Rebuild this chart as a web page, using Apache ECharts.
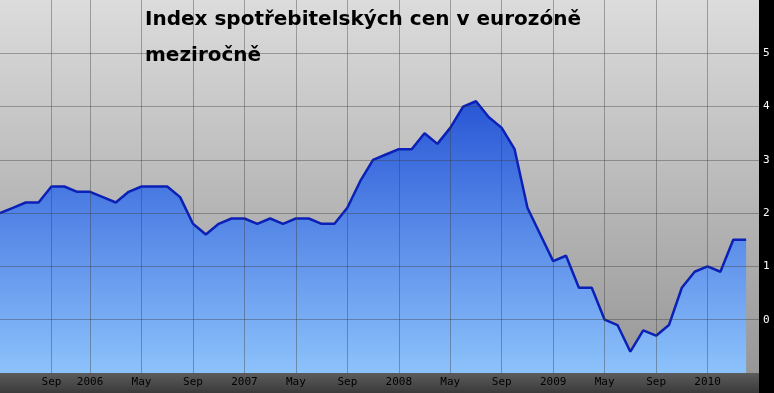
<!DOCTYPE html>
<html><head><meta charset="utf-8">
<script src="https://cdn.jsdelivr.net/npm/echarts@6/dist/echarts.min.js"></script>
<style>html,body{margin:0;padding:0;background:#000}#c{width:774px;height:393px}</style>
</head><body><div id="c"></div>
<script>
// monthly categories (Jun 2005 .. May 2010; last slot has no value)
const months = [
 '2005-06','2005-07','2005-08','2005-09','2005-10','2005-11','2005-12',
 '2006-01','2006-02','2006-03','2006-04','2006-05','2006-06','2006-07','2006-08','2006-09','2006-10','2006-11','2006-12',
 '2007-01','2007-02','2007-03','2007-04','2007-05','2007-06','2007-07','2007-08','2007-09','2007-10','2007-11','2007-12',
 '2008-01','2008-02','2008-03','2008-04','2008-05','2008-06','2008-07','2008-08','2008-09','2008-10','2008-11','2008-12',
 '2009-01','2009-02','2009-03','2009-04','2009-05','2009-06','2009-07','2009-08','2009-09','2009-10','2009-11','2009-12',
 '2010-01','2010-02','2010-03','2010-04','2010-05'
];
// year-on-year HICP, %
const values = [
 2.0,2.1,2.2,2.2,2.5,2.5,2.4,
 2.4,2.3,2.2,2.4,2.5,2.5,2.5,2.3,1.8,1.6,1.8,1.9,
 1.9,1.8,1.9,1.8,1.9,1.9,1.8,1.8,2.1,2.6,3.0,3.1,
 3.2,3.2,3.5,3.3,3.6,4.0,4.1,3.8,3.6,3.2,2.1,1.6,
 1.1,1.2,0.6,0.6,0.0,-0.1,-0.6,-0.2,-0.3,-0.1,0.6,0.9,
 1.0,0.9,1.5,1.5
];
const tickIndex  = [4,7,11,15,19,23,27,31,35,39,43,47,51,55];
const tickLabels = ['Sep','2006','May','Sep','2007','May','Sep','2008','May','Sep','2009','May','Sep','2010'];
const yTickLabels = ['0','1','2','3','4','5'];

const labelMap = {};
tickIndex.forEach((i, k) => { labelMap[i] = tickLabels[k]; });

const chart = echarts.init(document.getElementById('c'), null, {renderer: 'canvas'});
const grad = (c0, c1) => new echarts.graphic.LinearGradient(0, 0, 0, 1, [{offset: 0, color: c0}, {offset: 1, color: c1}]);

chart.setOption({
  backgroundColor: '#000',
  animation: false,
  graphic: [{
    type: 'rect', left: 0, top: 373, z: -10,
    shape: {width: 759, height: 20},
    style: {fill: grad('#5c5c5c', '#3a3a3a')}
  }],
  title: {
    text: 'Index spotřebitelských cen v eurozóně\nmeziročně',
    left: 145, top: 2, padding: 0,
    textStyle: {fontFamily: 'DejaVu Sans', fontWeight: 'bold', fontSize: 20, color: '#000', lineHeight: 36}
  },
  grid: {
    left: 0, right: 15, top: 0, bottom: 20, show: true, borderWidth: 0,
    backgroundColor: grad('#dcdcdc', '#979797')
  },
  xAxis: {
    type: 'category', data: months, boundaryGap: false, z: 3,
    axisLine: {show: false}, axisTick: {show: false},
    axisLabel: {
      interval: (i) => labelMap[i] !== undefined,
      formatter: (v, i) => labelMap[i] || '',
      color: '#000', fontFamily: 'DejaVu Sans Mono', fontSize: 11, margin: 4
    },
    splitLine: {show: true, interval: (i) => labelMap[i] !== undefined,
      lineStyle: {color: 'rgba(60,60,60,0.4)', width: 1}}
  },
  yAxis: {
    type: 'value', position: 'right', min: -1, max: 6, interval: 1, z: 3,
    axisLine: {show: false}, axisTick: {show: false},
    axisLabel: {
      formatter: (v) => (v >= 0 && v <= 5) ? yTickLabels[v] : '',
      color: '#fff', fontFamily: 'DejaVu Sans Mono', fontSize: 11, margin: 4
    },
    splitLine: {show: true, showMinLine: false, showMaxLine: false,
      lineStyle: {color: 'rgba(60,60,60,0.4)', width: 1}}
  },
  series: [{
    type: 'line', data: values, symbol: 'none', z: 2,
    lineStyle: {color: '#0b20b6', width: 2.5},
    areaStyle: {origin: 'start', opacity: 1, color: grad('#2856d6', '#8cc2fb')}
  }]
});
</script></body></html>
